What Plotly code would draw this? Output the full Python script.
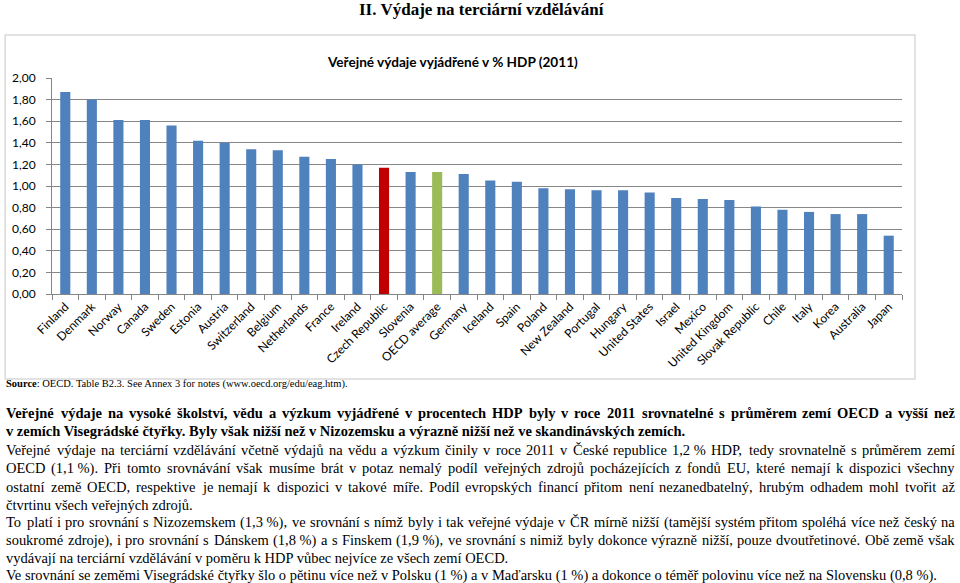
import unicodedata
import plotly.graph_objects as go

# ---------------- data ----------------
categories = ["Finland", "Denmark", "Norway", "Canada", "Sweden", "Estonia", "Austria",
              "Switzerland", "Belgium", "Netherlands", "France", "Ireland", "Czech Republic",
              "Slovenia", "OECD average", "Germany", "Iceland", "Spain", "Poland",
              "New Zealand", "Portugal", "Hungary", "United States", "Israel", "Mexico",
              "United Kingdom", "Slovak Republic", "Chile", "Italy", "Korea", "Australia", "Japan"]
values = [1.87, 1.80, 1.61, 1.61, 1.56, 1.42, 1.40, 1.34, 1.33, 1.27, 1.25, 1.20, 1.17,
          1.13, 1.13, 1.11, 1.05, 1.04, 0.98, 0.97, 0.96, 0.96, 0.94, 0.89, 0.88,
          0.87, 0.81, 0.78, 0.76, 0.74, 0.74, 0.54]
highlight_colors = {"Czech Republic": "#C00000", "OECD average": "#9BBB59"}
base_color = "#4F81BD"
y_ticks = [0.0, 0.2, 0.4, 0.6, 0.8, 1.0, 1.2, 1.4, 1.6, 1.8, 2.0]

page_title = "II. Výdaje na terciární vzdělávání"
chart_title = "Veřejné výdaje vyjádřené v % HDP (2011)"
source_bold = "Source"
source_rest = ": OECD. Table B2.3. See Annex 3 for notes (www.oecd.org/edu/eag.htm)."

NB = "\u00a0"
# (text, bold, justified)
text_lines = [
    ("Veřejné výdaje na vysoké školství, vědu a výzkum vyjádřené v procentech HDP byly v roce 2011 srovnatelné s průměrem zemí OECD a vyšší než", True, True),
    ("v zemích Visegrádské čtyřky. Byly však nižší než v Nizozemsku a výrazně nižší než ve skandinávských zemích.", True, False),
    ("Veřejné výdaje na terciární vzdělávání včetně výdajů na vědu a výzkum činily v roce 2011 v České republice 1,2" + NB + "% HDP, tedy srovnatelně s průměrem zemí", False, True),
    ("OECD (1,1" + NB + "%). Při tomto srovnávání však musíme brát v potaz nemalý podíl veřejných zdrojů pocházejících z fondů EU, které nemají k dispozici všechny", False, True),
    ("ostatní země OECD, respektive je nemají k dispozici v takové míře. Podíl evropských financí přitom není nezanedbatelný, hrubým odhadem mohl tvořit až", False, True),
    ("čtvrtinu všech veřejných zdrojů.", False, False),
    ("To platí i pro srovnání s Nizozemskem (1,3" + NB + "%), ve srovnání s nímž byly i tak veřejné výdaje v ČR mírně nižší (tamější systém přitom spoléhá více než český na", False, True),
    ("soukromé zdroje), i pro srovnání s Dánskem (1,8" + NB + "%) a s Finskem (1,9" + NB + "%), ve srovnání s nimiž byly dokonce výrazně nižší, pouze dvoutřetinové. Obě země však", False, True),
    ("vydávají na terciární vzdělávání v poměru k HDP vůbec nejvíce ze všech zemí OECD.", False, False),
    ("Ve srovnání se zeměmi Visegrádské čtyřky šlo o pětinu více než v Polsku (1" + NB + "%) a v Maďarsku (1" + NB + "%) a dokonce o téměř polovinu více než na Slovensku (0,8" + NB + "%).", False, False),
]
line_y = [413, 431, 450, 468, 487, 505, 522, 540, 558, 575]

# ---------------- layout geometry ----------------
W, H = 960, 583
ML, MR, MT, MB = 49, 58, 78, 289
PW, PH = W - ML - MR, H - MT - MB


def px_x(px):
    return (px - ML) / PW


def px_y(py):
    return (H - MB - py) / PH


# Times metrics (1/1000 em) for word placement in justified lines
_up = "ABCDEFGHIJKLMNOPQRSTUVWXYZ"
_lo = "abcdefghijklmnopqrstuvwxyz"
REG = dict(zip(_up, [722, 667, 667, 722, 611, 556, 722, 722, 333, 389, 722, 611, 889, 722, 722, 556, 722, 667, 556, 611, 722, 722, 944, 722, 722, 611]))
REG.update(zip(_lo, [444, 500, 444, 500, 444, 333, 500, 500, 278, 278, 500, 278, 778, 500, 500, 500, 500, 333, 389, 278, 500, 500, 722, 500, 500, 444]))
REG.update({" ": 250, NB: 250, "%": 833, "(": 333, ")": 333, ",": 250, ".": 250, ":": 278, "-": 333, "/": 278, "ď": 588})
BLD = dict(zip(_up, [722, 667, 722, 722, 667, 611, 778, 778, 389, 500, 778, 667, 944, 722, 778, 611, 778, 722, 556, 667, 722, 722, 1000, 722, 722, 667]))
BLD.update(zip(_lo, [500, 556, 444, 556, 444, 333, 500, 556, 278, 333, 556, 278, 833, 556, 500, 556, 556, 444, 389, 333, 556, 500, 722, 500, 500, 444]))
BLD.update({" ": 250, NB: 250, "%": 1000, "(": 333, ")": 333, ",": 250, ".": 250, ":": 333, "-": 333, "/": 278, "ď": 672})
for d in (REG, BLD):
    for c in "0123456789":
        d[c] = 500


def em_width(s, bold=False):
    table = BLD if bold else REG
    tot = 0
    for ch in s:
        if ch in table:
            tot += table[ch]
        else:
            base = unicodedata.normalize("NFD", ch)[0]
            tot += table.get(base, 500)
    return tot / 1000.0


TEXT_L, TEXT_R = 3, 955
FS = 1.015 * (923 - TEXT_L) / em_width(text_lines[-1][0])
SERIF = "Liberation Serif, Times New Roman, serif"
SANS = "Lato, Arial, sans-serif"

# ---------------- chart ----------------
colors = [highlight_colors.get(c, base_color) for c in categories]

fig = go.Figure()
fig.add_trace(go.Bar(x=categories, y=values, marker=dict(color=colors, line=dict(width=0)),
                     hoverinfo="x+y"))

annotations = []


def txt(x, y, text, size, family, xanchor="left", color="#000000"):
    annotations.append(dict(x=px_x(x), y=px_y(y), xref="paper", yref="paper", text=text,
                            showarrow=False, xanchor=xanchor, yanchor="middle",
                            align="left", borderpad=0, borderwidth=0,
                            font=dict(size=size, family=family, color=color)))


txt(480, 10, "<b>" + page_title + "</b>", 17, SERIF, xanchor="center")
txt(451, 62, "<b>" + chart_title + "</b>", 13.6, SANS, xanchor="center")
txt(3, 384, "<b>" + source_bold + "</b>" + source_rest, 10.5, SERIF)

for (text, bold, justified), y in zip(text_lines, line_y):
    wrap = (lambda s: "<b>" + s + "</b>") if bold else (lambda s: s)
    if not justified:
        txt(TEXT_L, y, wrap(text), FS, SERIF)
        continue
    words = text.split(" ")
    widths = [em_width(w, bold) * FS for w in words]
    gap = (TEXT_R - TEXT_L - sum(widths)) / (len(words) - 1)
    x = TEXT_L
    for w, wd in zip(words, widths):
        txt(x, y, wrap(w), FS, SERIF)
        x += wd + gap

shapes = [dict(type="rect", xref="paper", yref="paper",
               x0=px_x(2), x1=px_x(915), y0=px_y(379), y1=px_y(35),
               line=dict(color="#D9D9D9", width=1.5), fillcolor="rgba(0,0,0,0)", layer="below")]

fig.update_layout(
    width=W, height=H,
    margin=dict(l=ML, r=MR, t=MT, b=MB, pad=0),
    paper_bgcolor="white", plot_bgcolor="white",
    separators=", ",
    bargap=0.62,
    showlegend=False,
    annotations=annotations,
    shapes=shapes,
    font=dict(family=SANS, size=12, color="#000000"),
)
fig.update_xaxes(
    type="category", showgrid=False, showline=True, linecolor="#868686", linewidth=1,
    ticks="outside", ticklen=5, tickcolor="#868686", tickson="boundaries",
    tickangle=-45, tickfont=dict(family=SANS, size=12, color="#000000"),
)
fig.update_yaxes(
    range=[0, 2], tickvals=y_ticks, tickformat=".2f", showgrid=True, gridcolor="#878787",
    gridwidth=1, zeroline=False, showline=True, linecolor="#868686", linewidth=1,
    ticks="outside", ticklen=5, tickcolor="#868686", ticklabelstandoff=8,
    tickfont=dict(family=SANS, size=12, color="#000000"),
)

fig.write_html("out.html", config={"displayModeBar": False},
               post_script="document.body.style.margin='0px';document.body.style.overflow='hidden';")
